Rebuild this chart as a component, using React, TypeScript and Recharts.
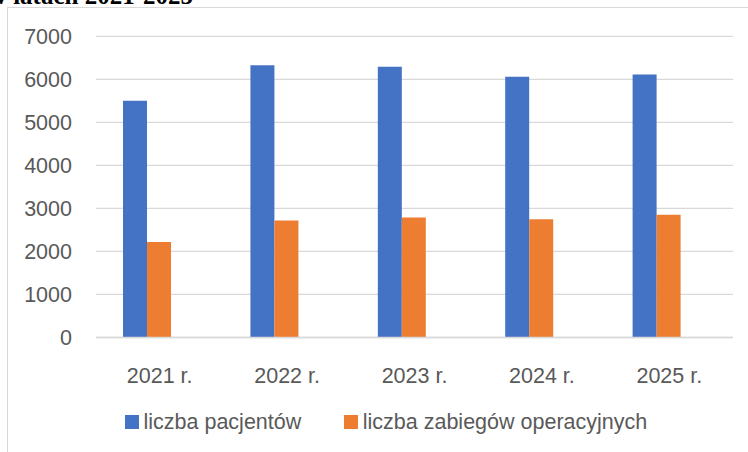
import React from 'react';
import { BarChart, Bar, XAxis, YAxis, CartesianGrid, Legend } from 'recharts';

const categories = ['2021 r.', '2022 r.', '2023 r.', '2024 r.', '2025 r.'];
const pacjenci = [5500, 6330, 6290, 6060, 6110];
const zabiegi = [2220, 2720, 2790, 2750, 2850];
const pustaSeria = [null, null, null, null, null];
const yTicks = [0, 1000, 2000, 3000, 4000, 5000, 6000, 7000];
const seriesNames = ['liczba pacjentów', 'liczba zabiegów operacyjnych'];
const titleText = 'w latach 2021-2025';

const data = categories.map((c, i) => ({
  name: c,
  pacjenci: pacjenci[i],
  zabiegi: zabiegi[i],
  pusta: pustaSeria[i],
}));

const FONT = '"Liberation Sans", Arial, sans-serif';
const TEXT = '#595959';

const LegendContent = (props: any) => {
  const items = (props.payload || []).filter((p: any) => p.type !== 'none');
  return (
    <div style={{ display: 'flex', alignItems: 'center', height: 28, fontFamily: FONT, fontSize: 21.5, color: TEXT }}>
      {items.map((p: any, i: number) => (
        <div key={i} style={{ display: 'flex', alignItems: 'center', marginRight: i === 0 ? 43 : 0 }}>
          <span style={{ display: 'inline-block', width: 14, height: 14, background: p.color, marginRight: 4.5 }} />
          <span style={{ whiteSpace: 'nowrap' }}>{p.value}</span>
        </div>
      ))}
    </div>
  );
};

export default function App() {
  return (
    <div style={{ position: 'fixed', left: 0, top: 0, width: 748, height: 452, overflow: 'hidden', background: '#fff' }}>
      <div style={{ position: 'absolute', left: 7, top: 7, width: 800, height: 500, border: '1.3px solid #d9d9d9', boxSizing: 'border-box' }} />
      <svg style={{ position: 'absolute', left: 0, top: 0 }} width={748} height={20}>
        <text x={193} y={3.5} textAnchor="end" fontFamily='"Liberation Serif", "Times New Roman", serif' fontWeight="bold" fontSize={25} fill="#000">
          {titleText}
        </text>
      </svg>
      <div style={{ position: 'absolute', left: 0, top: 0 }}>
        <BarChart
          width={748}
          height={452}
          data={data}
          margin={{ top: 36.3, right: 15, bottom: 74.5, left: 0 }}
          barGap={0}
          barCategoryGap="21.2%"
        >
          <CartesianGrid vertical={false} stroke="#d9d9d9" strokeWidth={1.3} />
          <XAxis
            dataKey="name"
            height={40}
            axisLine={{ stroke: '#d9d9d9', strokeWidth: 1.3 }}
            tickLine={false}
            tickMargin={24.5}
            tick={{ fill: TEXT, fontSize: 21.5, fontFamily: FONT }}
          />
          <YAxis
            width={96}
            domain={[0, 7000]}
            ticks={yTicks}
            axisLine={false}
            tickLine={false}
            tickMargin={18}
            tick={{ fill: TEXT, fontSize: 21.5, fontFamily: FONT }}
          />
          <Legend
            layout="horizontal"
            verticalAlign="middle"
            align="center"
            wrapperStyle={{ top: 408, left: 125, width: 600 }}
            content={<LegendContent />}
          />
          <Bar dataKey="pacjenci" name={seriesNames[0]} fill="#4472C4" isAnimationActive={false} />
          <Bar dataKey="zabiegi" name={seriesNames[1]} fill="#ED7D31" isAnimationActive={false} />
          <Bar dataKey="pusta" name="" fill="#A5A5A5" legendType="none" isAnimationActive={false} />
        </BarChart>
      </div>
    </div>
  );
}
